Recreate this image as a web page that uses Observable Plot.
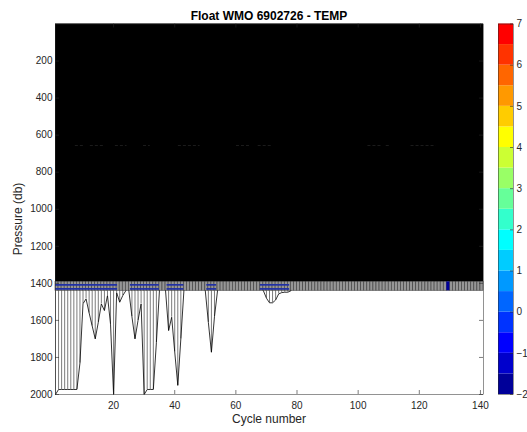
<!DOCTYPE html>
<html>
<head>
<meta charset="utf-8">
<script src="https://cdn.jsdelivr.net/npm/d3@7"></script>
<script src="https://cdn.jsdelivr.net/npm/@observablehq/plot@0.6"></script>
<style>
  html, body { margin: 0; padding: 0; background: #fff; }
  #wrap { position: relative; width: 527px; height: 432px; overflow: hidden;
          font-family: "Liberation Sans", Arial, Helvetica, sans-serif; color: #262626; }
  #main, #cbar { position: absolute; top: 0; }
  #main { left: 0; }
  #cbar { left: 490px; }
  .title { position: absolute; left: 55px; width: 428px; top: 8.8px; text-align: center;
           font-weight: bold; font-size: 12px; line-height: 14px; color: #000; white-space: nowrap; }
  .xlabel { position: absolute; left: 55px; width: 428px; top: 412.3px; text-align: center;
            font-size: 12px; line-height: 14px; white-space: nowrap; }
  .ylabel { position: absolute; left: -82px; top: 212px; width: 200px; height: 14px; text-align: center;
            font-size: 12px; line-height: 14px; transform: rotate(-90deg); white-space: nowrap; }
</style>
</head>
<body>
<div id="wrap">
  <div id="main"></div>
  <div id="cbar"></div>
  <div class="title">Float WMO 6902726 - TEMP</div>
  <div class="xlabel">Cycle number</div>
  <div class="ylabel">Pressure (db)</div>
</div>
<script>
// ---------------- data ----------------
const cycles = d3.range(1, 141);                 // profile cells [c, c+1]
const xTicks = [20, 40, 60, 80, 100, 120, 140];
const yTicks = [200, 400, 600, 800, 1000, 1200, 1400, 1600, 1800, 2000];
const cbarTicks = [-2, -1, 0, 1, 2, 3, 4, 5, 6, 7];
const surfacePressure = [0];
const bandPressure = [1392, 1440];               // dense grey band top / bottom

// deep-profile cells below the band (cycle, bottom pressure, run id)
const deepCycle = [1,2,3,4,5,6,7,8,9,10,11,12,13,14,15,16,17,18,19,20,21,22,23,24,
                   25,26,27,28,29,30,31,32,33,34,35,
                   37,38,39,40,41,42,43,
                   50,51,52,53,54,
                   69,70,71,72,73,74,75,76,77,78];
const deepBottom = [2000,1973,1973,1973,1973,1973,1973,1973,1830,1510,1484,1560,1630,1700,1610,1511,1547,1466,1620,2000,1450,1502,1466,1440,
                    1440,1580,1700,1600,1511,2000,1973,1973,1973,1720,1440,
                    1440,1655,1583,1770,1951,1700,1440,
                    1440,1610,1772,1580,1440,
                    1440,1480,1505,1505,1490,1457,1450,1448,1448,1440];
const deepRun = [1,1,1,1,1,1,1,1,1,1,1,1,1,1,1,1,1,1,1,1,1,1,1,1,
                 2,2,2,2,2,2,2,2,2,2,2,
                 3,3,3,3,3,3,3,
                 4,4,4,4,4,
                 5,5,5,5,5,5,5,5,5,5];

// blue cell rows inside the band over the deep runs
const blueRunStart = [1, 25.5, 37.5, 50.5, 68];
const blueRunEnd   = [21.3, 35, 43, 53.7, 77.6];
const blueLevels   = [1408, 1430];

// single cold cell in the band
const coldCycle = [129];

// faint marks inside the black area
const speckStart = [7.5, 12.4, 20.6, 29.8, 41.2, 60.2, 67.3, 103.2, 109.2, 117.3];
const speckEnd   = [10.2, 16.8, 24.4, 32, 48.3, 64.6, 72.2, 108.1, 110.3, 125.5];
const speckPressure = [656];

// colour bar levels (lower bounds, step 0.5) and jet(18) colormap
const colorLevels = [-2,-1.5,-1,-0.5,0,0.5,1,1.5,2,2.5,3,3.5,4,4.5,5,5.5,6,6.5];
const jet18 = ["#000099","#0000cc","#0000ff","#0033ff","#0066ff","#0099ff","#00ccff","#00ffff",
               "#33ffcc","#66ff99","#99ff66","#ccff33","#ffff00","#ffcc00","#ff9900","#ff6600",
               "#ff3300","#ff0000"];

// ---------------- derived tables ----------------
const deepIdx = deepCycle.map((_, i) => i);
const blueSegs = [];
blueLevels.forEach(p => blueRunStart.forEach((s, i) => blueSegs.push({p, a: s, b: blueRunEnd[i]})));
const specks = speckStart.map((s, i) => ({a: s, b: speckEnd[i], p: speckPressure[0]}));
const firstCycle = [cycles[0]];

const W = 527, H = 432, mL = 55, mR = 44, mT = 23.5, mB = 38;
const plotW = W - mL - mR, plotH = H - mT - mB;
const axisColor = "#262626";
const font = '"Liberation Sans", Arial, Helvetica, sans-serif';

const main = Plot.plot({
  width: W, height: H,
  marginLeft: mL, marginRight: mR, marginTop: mT, marginBottom: mB,
  style: {fontFamily: font, fontSize: "10px", color: axisColor, background: "transparent", overflow: "visible"},
  x: {domain: [1, 141]},
  y: {domain: [0, 2000], reverse: true},
  marks: [
    // dense upper mesh -> solid black (one block over all cycles)
    Plot.rect(firstCycle, {x1: () => cycles[0], x2: () => cycles[cycles.length - 1] + 1,
                           y1: () => surfacePressure[0], y2: () => bandPressure[0], fill: "black"}),
    // grey band
    Plot.rect(cycles, {x1: c => c, x2: c => c + 1, y1: () => bandPressure[0], y2: () => bandPressure[1],
                       fill: "#969696", stroke: "#3a3a3a", strokeWidth: 0.6}),
    Plot.ruleY(blueSegs, {y: "p", x1: "a", x2: "b", stroke: "#1f2fa6", strokeWidth: 1.7}),
    Plot.rect(coldCycle, {x1: c => c, x2: c => c + 1, y1: () => bandPressure[0], y2: () => bandPressure[1], fill: "#000099"}),
    // deep cells: vertical edges and bottom outline
    Plot.ruleX(deepIdx, {x: i => deepCycle[i], y1: () => bandPressure[1], y2: i => deepBottom[i],
                         stroke: "#444", strokeWidth: 0.7}),
    Plot.line(deepIdx, {x: i => deepCycle[i], y: i => deepBottom[i], z: i => deepRun[i],
                        stroke: "black", strokeWidth: 0.8}),
    // faint specks
    Plot.ruleY(specks, {y: "p", x1: "a", x2: "b", stroke: "#1c1c1c", strokeWidth: 1, strokeDasharray: "3,2"}),
    // inward ticks (MATLAB style)
    Plot.tickX(xTicks, {x: d => d, insetTop: plotH - 4, stroke: axisColor, strokeWidth: 0.6}),
    Plot.tickX(xTicks, {x: d => d, insetBottom: plotH - 4, stroke: axisColor, strokeWidth: 0.6}),
    Plot.tickY(yTicks, {y: d => d, insetRight: plotW - 4, stroke: axisColor, strokeWidth: 0.6}),
    Plot.tickY(yTicks, {y: d => d, insetLeft: plotW - 4, stroke: axisColor, strokeWidth: 0.6}),
    Plot.axisX({ticks: xTicks, tickSize: 0, tickPadding: 7, tickFormat: "d", label: null}),
    Plot.axisY({ticks: yTicks, tickSize: 0, tickPadding: 3, tickFormat: "d", label: null}),
    Plot.frame({stroke: axisColor, strokeWidth: 0.5})
  ]
});
document.getElementById("main").appendChild(main);

const cbW = 37, cbL = 8, cbR = 14;
const cbar = Plot.plot({
  width: cbW, height: H,
  marginLeft: cbL, marginRight: cbR, marginTop: mT, marginBottom: mB,
  style: {fontFamily: font, fontSize: "10px", color: axisColor, background: "transparent", overflow: "visible"},
  y: {domain: [-2, 7]},
  color: {type: "identity"},
  marks: [
    Plot.rect(colorLevels, {y1: d => d, y2: d => d + 0.5, fill: (d, i) => jet18[i]}),
    Plot.tickY(cbarTicks, {y: d => d, insetLeft: cbW - cbL - cbR - 3, stroke: axisColor, strokeWidth: 0.6}),
    Plot.axisY({anchor: "right", ticks: cbarTicks, tickSize: 0, tickPadding: 3, tickFormat: "d", label: null}),
    Plot.frame({stroke: axisColor, strokeWidth: 0.5})
  ]
});
document.getElementById("cbar").appendChild(cbar);
</script>
</body>
</html>
